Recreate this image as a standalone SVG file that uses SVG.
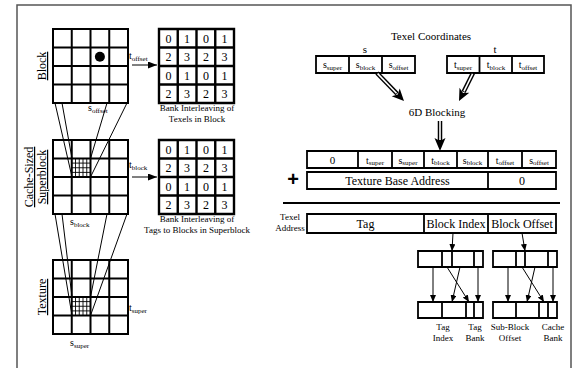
<svg xmlns="http://www.w3.org/2000/svg" width="576" height="368" viewBox="0 0 576 368">
<style>
.t{font-family:"Liberation Serif","Times New Roman",serif;fill:#000}
.lab{font-size:10px}
.sub{font-size:7px}
.num{font-size:12px;text-anchor:middle}
.cap{font-size:9px;text-anchor:middle}
.side{font-size:12px;text-anchor:middle;text-decoration:underline}
.big{font-size:12px;text-anchor:middle}
.mid{font-size:11px;text-anchor:middle}
.g{fill:none;stroke:#000;stroke-width:2}
.bg{fill:none;stroke:#000;stroke-width:2.4}
.fg{fill:none;stroke:#000;stroke-width:0.9}
.ln{fill:none;stroke:#000;stroke-width:1}
.box{fill:#fff;stroke:#000;stroke-width:1.8}
.c{text-anchor:middle}
</style>
<defs>
<marker id="ah" markerUnits="userSpaceOnUse" markerWidth="9" markerHeight="7" refX="9" refY="3.5" orient="auto"><path d="M0,0 L9,3.5 L0,7 z" fill="#000"/></marker>
<marker id="sh" markerUnits="userSpaceOnUse" markerWidth="7" markerHeight="6" refX="7" refY="3" orient="auto"><path d="M0,0 L7,3 L0,6 z" fill="#000"/></marker>
</defs>
<rect x="17" y="5" width="554" height="364" fill="none" stroke="#555" stroke-width="1.5"/>

<g id="block-grid">
<path class="g" d="M53,29H128V103H53Z M71.75,29V103 M90.5,29V103 M109.25,29V103 M53,47.5H128 M53,66H128 M53,84.5H128"/>
<circle cx="99.9" cy="56.75" r="5" fill="#000"/>
<text class="t side" transform="translate(46,66) rotate(-90)">Block</text>
<text class="t lab" x="88" y="111">s<tspan class="sub" dy="1.5">offset</tspan></text>
<text class="t lab" x="129" y="59">t<tspan class="sub" dy="1.5">offset</tspan></text>
</g>

<g id="superblock-grid">
<path class="g" d="M53,140H128V214H53Z M71.75,140V214 M90.5,140V214 M109.25,140V214 M53,158.5H128 M53,177H128 M53,195.5H128"/>
<path class="fg" d="M75.5,158.5V177 M79.25,158.5V177 M83,158.5V177 M86.75,158.5V177 M71.75,163.1H90.5 M71.75,167.75H90.5 M71.75,172.4H90.5"/>
<text class="t side" transform="translate(33,177) rotate(-90)">Cache-Sized</text>
<text class="t side" transform="translate(46,177) rotate(-90)">Superblock</text>
<text class="t lab" x="70" y="225">s<tspan class="sub" dy="1.5">block</tspan></text>
<text class="t lab" x="129" y="168">t<tspan class="sub" dy="1.5">block</tspan></text>
</g>

<g id="texture-grid">
<path class="g" d="M53,260H128V334H53Z M71.75,260V334 M90.5,260V334 M109.25,260V334 M53,278.5H128 M53,297H128 M53,315.5H128"/>
<path class="fg" d="M75.5,297V315.5 M79.25,297V315.5 M83,297V315.5 M86.75,297V315.5 M71.75,301.6H90.5 M71.75,306.25H90.5 M71.75,310.9H90.5"/>
<text class="t side" transform="translate(46,297) rotate(-90)">Texture</text>
<text class="t lab" x="70" y="346">s<tspan class="sub" dy="1.5">super</tspan></text>
<text class="t lab" x="129" y="311">t<tspan class="sub" dy="1.5">super</tspan></text>
</g>

<g id="bank-texels">
<path class="bg" d="M159,29H234V103H159Z M177.75,29V103 M196.5,29V103 M215.25,29V103 M159,47.5H234 M159,66H234 M159,84.5H234"/>
<g class="t num">
<text x="168.4" y="42.5">0</text><text x="187.1" y="42.5">1</text><text x="205.9" y="42.5">0</text><text x="224.6" y="42.5">1</text>
<text x="168.4" y="61">2</text><text x="187.1" y="61">3</text><text x="205.9" y="61">2</text><text x="224.6" y="61">3</text>
<text x="168.4" y="79.5">0</text><text x="187.1" y="79.5">1</text><text x="205.9" y="79.5">0</text><text x="224.6" y="79.5">1</text>
<text x="168.4" y="98">2</text><text x="187.1" y="98">3</text><text x="205.9" y="98">2</text><text x="224.6" y="98">3</text>
</g>
<text class="t cap" x="197" y="111">Bank Interleaving of</text>
<text class="t cap" x="197" y="122">Texels in Block</text>
</g>

<g id="bank-tags">
<path class="bg" d="M159,140H234V214H159Z M177.75,140V214 M196.5,140V214 M215.25,140V214 M159,158.5H234 M159,177H234 M159,195.5H234"/>
<g class="t num">
<text x="168.4" y="153.5">0</text><text x="187.1" y="153.5">1</text><text x="205.9" y="153.5">0</text><text x="224.6" y="153.5">1</text>
<text x="168.4" y="172">2</text><text x="187.1" y="172">3</text><text x="205.9" y="172">2</text><text x="224.6" y="172">3</text>
<text x="168.4" y="190.5">0</text><text x="187.1" y="190.5">1</text><text x="205.9" y="190.5">0</text><text x="224.6" y="190.5">1</text>
<text x="168.4" y="209">2</text><text x="187.1" y="209">3</text><text x="205.9" y="209">2</text><text x="224.6" y="209">3</text>
</g>
<text class="t cap" x="197" y="222">Bank Interleaving of</text>
<text class="t cap" x="197" y="233">Tags to Blocks in Superblock</text>
</g>

<g id="texel-coords">
<text class="t mid" x="431" y="40">Texel Coordinates</text>
<text class="t mid" x="365" y="53">s</text>
<text class="t mid" x="495" y="53">t</text>
<path class="box" d="M316,56H415V73H316Z M349,56V73 M382,56V73"/>
<path class="box" d="M447,56H544V73H447Z M479.5,56V73 M512,56V73"/>
<text class="t lab c" x="332.5" y="68">s<tspan class="sub" dy="1.5">super</tspan></text>
<text class="t lab c" x="365.5" y="68">s<tspan class="sub" dy="1.5">block</tspan></text>
<text class="t lab c" x="398.5" y="68">s<tspan class="sub" dy="1.5">offset</tspan></text>
<text class="t lab c" x="463" y="68">t<tspan class="sub" dy="1.5">super</tspan></text>
<text class="t lab c" x="496" y="68">t<tspan class="sub" dy="1.5">block</tspan></text>
<text class="t lab c" x="528" y="68">t<tspan class="sub" dy="1.5">offset</tspan></text>
</g>

<g id="blocking">
<text class="t mid" x="437" y="116">6D Blocking</text>
</g>

<g id="address-fields">
<path class="box" d="M307,151H556V168H307Z M358,151V168 M392,151V168 M424,151V168 M457,151V168 M488,151V168 M522,151V168"/>
<text class="t mid" x="332.5" y="163.5">0</text>
<text class="t lab c" x="375" y="163.5">t<tspan class="sub" dy="1.5">super</tspan></text>
<text class="t lab c" x="408" y="163.5">s<tspan class="sub" dy="1.5">super</tspan></text>
<text class="t lab c" x="440.5" y="163.5">t<tspan class="sub" dy="1.5">block</tspan></text>
<text class="t lab c" x="472.5" y="163.5">s<tspan class="sub" dy="1.5">block</tspan></text>
<text class="t lab c" x="505" y="163.5">t<tspan class="sub" dy="1.5">offset</tspan></text>
<text class="t lab c" x="539" y="163.5">s<tspan class="sub" dy="1.5">offset</tspan></text>
</g>

<g id="base-address">
<text x="293" y="186" font-family="'Liberation Sans',Arial,sans-serif" font-size="20" font-weight="bold" text-anchor="middle">+</text>
<path class="box" d="M307,172H556V189H307Z M488,172V189"/>
<text class="t big" x="397.5" y="185">Texture Base Address</text>
<text class="t big" x="522" y="185">0</text>
</g>

<line x1="283" y1="203" x2="560" y2="203" stroke="#000" stroke-width="2"/>

<g id="texel-address">
<text class="t cap" x="290" y="220">Texel</text>
<text class="t cap" x="290" y="231">Address</text>
<path class="box" d="M307,214H556V233H307Z M424,214V233 M488,214V233"/>
<text class="t big" x="365.5" y="228">Tag</text>
<text class="t big" x="456" y="228">Block Index</text>
<text class="t big" x="522" y="228">Block Offset</text>
</g>

<g id="index-split">
<path class="box" d="M418,251H483V267H418Z M442,251V267 M452,251V267 M474,251V267"/>
<path class="box" d="M418,302H483V318H418Z M442,302V318 M466,302V318 M474,302V318"/>
<text class="t cap" x="443" y="330">Tag</text>
<text class="t cap" x="443" y="341">Index</text>
<text class="t cap" x="475" y="330">Tag</text>
<text class="t cap" x="475" y="341">Bank</text>
</g>

<g id="offset-split">
<path class="box" d="M493,251H557V267H493Z M516,251V267 M525,251V267 M548,251V267"/>
<path class="box" d="M493,302H557V318H493Z M516,302V318 M539,302V318 M548,302V318"/>
<text class="t cap" x="510" y="330">Sub-Block</text>
<text class="t cap" x="510" y="341">Offset</text>
<text class="t cap" x="553" y="330">Cache</text>
<text class="t cap" x="553" y="341">Bank</text>
</g>

<g id="connectors">
<path class="ln" d="M55,103L72,177 M62,103L72,158.5 M107,103L90.5,158.5 M127,103L90.5,177"/>
<path class="ln" d="M55,214L72,315.5 M62,214L72,297 M107,214L90.5,297 M127,214L90.5,315.5"/>
<line class="ln" x1="132" y1="65" x2="157" y2="65" marker-end="url(#ah)"/>
<line class="ln" x1="132" y1="177" x2="157" y2="177" marker-end="url(#ah)"/>
<path d="M377,73L397.1,93.8" stroke="#000" stroke-width="4.5" fill="none"/>
<path d="M377.6,73.6L396.5,93.2" stroke="#fff" stroke-width="1.6" fill="none"/>
<path d="M404,101L391.7,96.2L397.8,94.5L399.7,88.6Z" fill="#000"/>
<path d="M473,73L463.5,92.1" stroke="#000" stroke-width="4.5" fill="none"/>
<path d="M472.6,73.8L463.9,91.3" stroke="#fff" stroke-width="1.6" fill="none"/>
<path d="M459,101L459.5,87.8L463,93L469.3,92.7Z" fill="#000"/>
<path d="M440,121V141" stroke="#000" stroke-width="4.5" fill="none"/>
<path d="M440,121V140" stroke="#fff" stroke-width="1.6" fill="none"/>
<path d="M440,151L434.5,138L440,141L445.5,138Z" fill="#000"/>
<line class="ln" x1="453" y1="233" x2="452" y2="251" marker-end="url(#sh)"/>
<line class="ln" x1="522" y1="233" x2="525" y2="251" marker-end="url(#sh)"/>
<line class="ln" x1="433" y1="267" x2="433" y2="302" marker-end="url(#sh)"/>
<line class="ln" x1="460" y1="267" x2="452" y2="302" marker-end="url(#sh)"/>
<line class="ln" x1="447" y1="267" x2="469" y2="302" marker-end="url(#sh)"/>
<line class="ln" x1="478" y1="267" x2="478" y2="302" marker-end="url(#sh)"/>
<line class="ln" x1="508" y1="267" x2="508" y2="302" marker-end="url(#sh)"/>
<line class="ln" x1="535" y1="267" x2="527" y2="302" marker-end="url(#sh)"/>
<line class="ln" x1="522" y1="267" x2="544" y2="302" marker-end="url(#sh)"/>
<line class="ln" x1="553" y1="267" x2="553" y2="302" marker-end="url(#sh)"/>
</g>
</svg>
